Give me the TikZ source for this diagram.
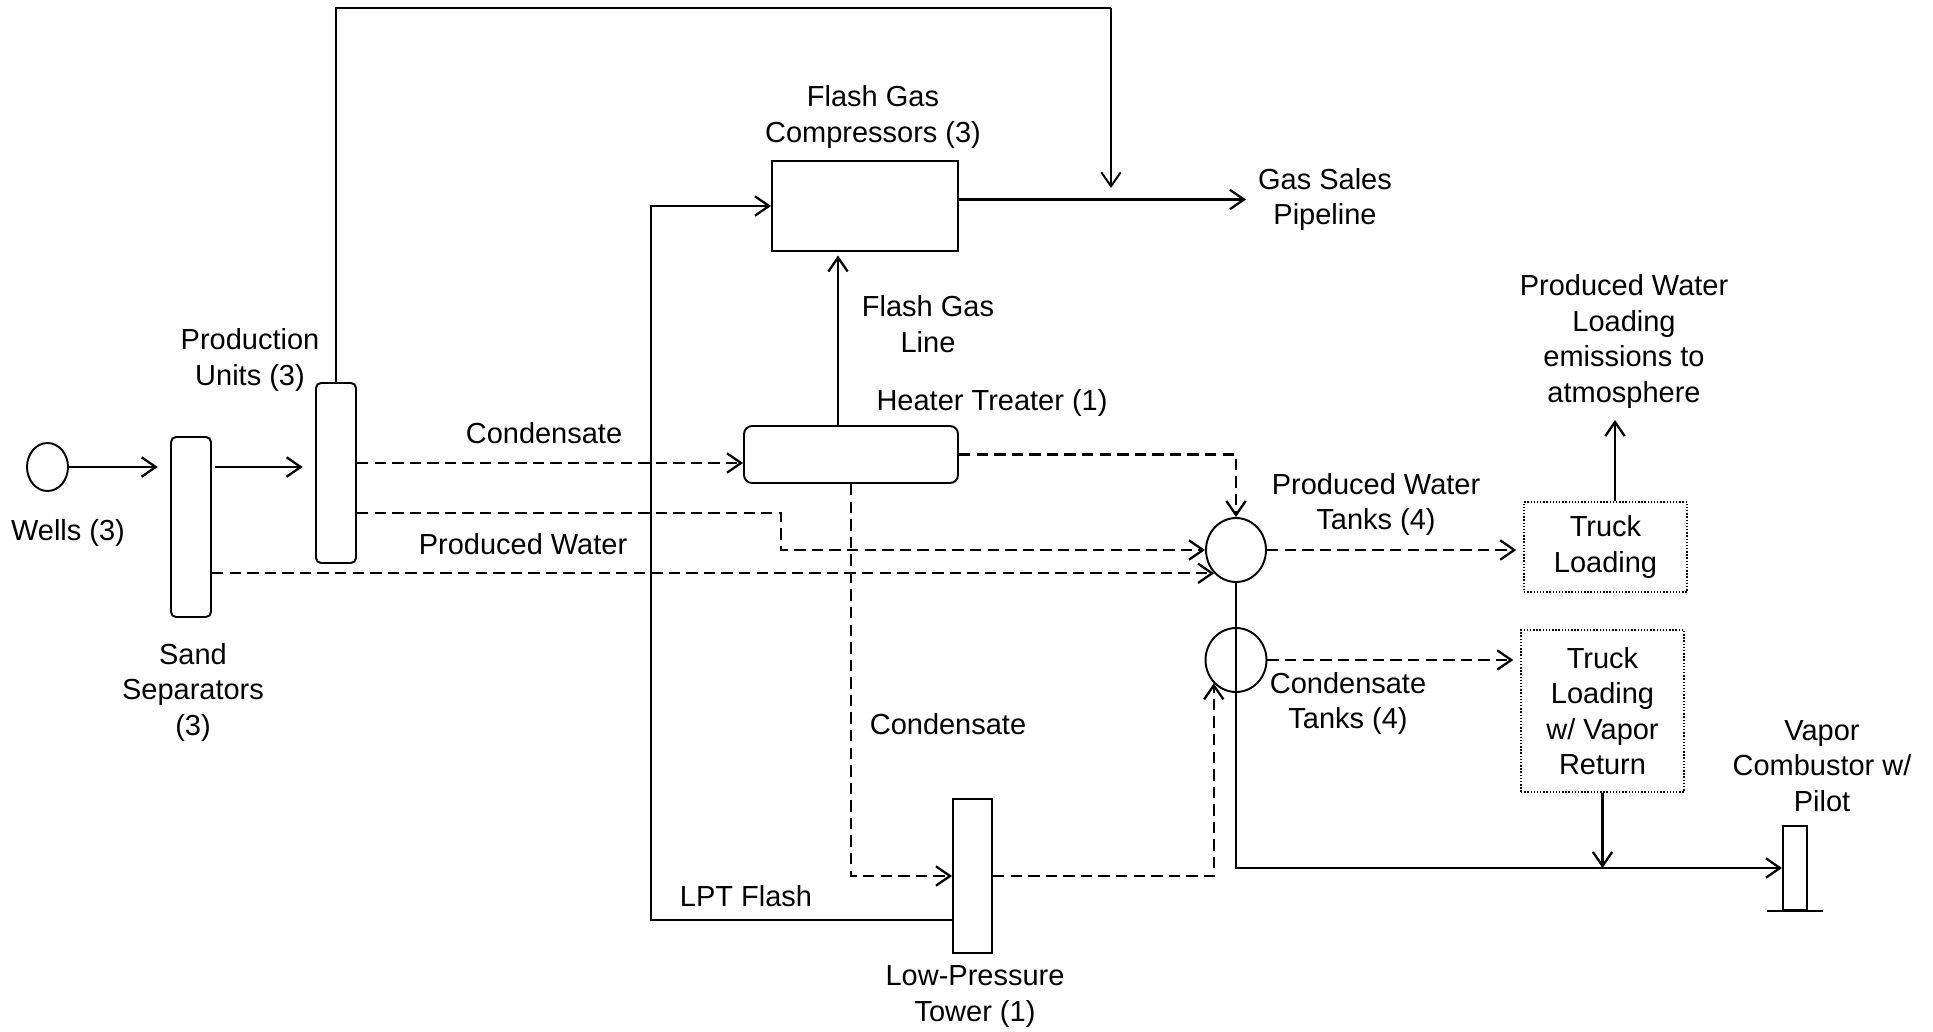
\documentclass[tikz,border=0pt]{standalone}
\usepackage{fontspec}
\setmainfont{Liberation Sans}
\usetikzlibrary{arrows.meta,shapes.geometric}
\begin{document}
\begin{tikzpicture}[x=0.02cm, y=-0.02cm, line width=1.3pt,
        font=\fontsize{16.5}{20.2}\selectfont,
        vessel/.style={draw, line width=1.1pt, rounded corners=0.1cm, minimum width=0.8cm, minimum height=3.6cm, inner sep=0},
        tank/.style={draw, line width=1.1pt, ellipse, inner sep=0},
        box/.style={draw, line width=1.1pt, inner sep=0},
        truck/.style={draw, densely dotted, line width=0.8pt, minimum width=3.26cm, align=center, inner sep=0},
        lbl/.style={align=center, inner sep=0},
        flow/.style={-{Straight Barb[length=8pt,width=11pt]}},
        liquid/.style={flow, dash pattern=on 6.5pt off 3.5pt}]
    \useasboundingbox (0,0) rectangle (1933,1031);
    \node[tank, minimum width=0.82cm, minimum height=0.96cm] (wells) at (47.5,467) {};
    \node[lbl] (wellslbl) at (68,533) {Wells (3)};
    \node[vessel] (sandsep) at (191,527) {};
    \node[lbl] (sandlbl) at (193,692) {Sand\\Separators\\(3)};
    \node[vessel] (produnit) at (336,473) {};
    \node[lbl] (prodlbl) at (250,360) {Production\\Units (3)};
    \node[box, rounded corners=0.16cm, minimum width=4.28cm, minimum height=1.14cm] (heater) at (851,454.5) {};
    \node[lbl] (heaterlbl) at (992,403) {Heater Treater (1)};
    \node[box, minimum width=3.72cm, minimum height=1.8cm] (comp) at (865,206) {};
    \node[lbl] (complbl) at (873,117) {Flash Gas\\Compressors (3)};
    \node[lbl, inner xsep=0.22cm] (pipe) at (1325,199.5) {Gas Sales\\Pipeline};
    \node[box, minimum width=0.78cm, minimum height=3.08cm] (lpt) at (972.5,876) {};
    \node[lbl] (lptlbl) at (975,996.5) {Low-Pressure\\Tower (1)};
    \node[tank, minimum width=1.2cm, minimum height=1.28cm] (pwtank) at (1236,550) {};
    \node[lbl] (pwtanklbl) at (1376,504.5) {Produced Water\\Tanks (4)};
    \node[tank, minimum width=1.22cm, minimum height=1.28cm] (condtank) at (1236,660) {};
    \node[lbl] (condtanklbl) at (1348,703.5) {Condensate\\Tanks (4)};
    \node[truck, minimum height=1.8cm] (truckpw) at (1605.5,547) {Truck\\Loading};
    \node[truck, minimum height=3.24cm] (truckcond) at (1602.5,711) {Truck\\Loading\\w/ Vapor\\Return};
    \node[lbl] (emis) at (1624,341.5) {Produced Water\\Loading\\emissions to\\atmosphere};
    \node[box, minimum width=0.48cm, minimum height=1.68cm] (comb) at (1795,868) {};
    \node[lbl] (comblbl) at (1822,766) {Vapor\\Combustor w/\\Pilot};
    \node[lbl] (condlbla) at (544,433) {Condensate};
    \node[lbl] (pwlbl) at (523,544) {Produced Water};
    \node[lbl] (fglbl) at (928,324) {Flash Gas\\Line};
    \node[lbl] (condlblb) at (948,724) {Condensate};
    \node[lbl] (lptflashlbl) at (746,896) {LPT Flash};
    \coordinate (ridge) at (1111,8);
    \coordinate (mergetip) at (1111,188);
    \coordinate (emistip) at (1615,420);
    \coordinate (pwjog) at (781,530);
    \coordinate (gasriser) at (651,560);
    \draw[flow, shorten >=7pt] (wells.east) -- (wells.east -| sandsep.west);
    \draw[flow, shorten <=1.5pt, shorten >=7pt] (sandsep.east |- wells) -- (produnit.west |- wells);
    \draw[line width=1.1pt] (produnit.north) |- (ridge);
    \draw[flow, line width=1.1pt] (ridge) -- (mergetip);
    \draw[liquid] ([yshift=0.2cm]produnit.east) -- ([yshift=0.2cm]produnit.east -| heater.west);
    \draw[liquid] ([yshift=-0.8cm]produnit.east) -| (pwjog) |- (pwtank.west);
    \draw[liquid] (sandsep.east |- pwtank.south west) -- (pwtank.south west);
    \draw[liquid] (heater.east) -| (pwtank.north);
    \draw[liquid] (heater.south) |- (lpt.west);
    \draw[liquid] (lpt.east) -| (condtank.south west);
    \draw[liquid, shorten >=4pt] (pwtank.east) -- (pwtank.east -| truckpw.west);
    \draw[liquid, shorten >=4pt] (condtank.east) -- (condtank.east -| truckcond.west);
    \draw[flow, shorten >=2pt] ([xshift=-0.26cm]heater.north) -- ([xshift=-0.26cm]heater.north |- comp.south);
    \draw[flow] ([yshift=-0.88cm]lpt.west) -| (gasriser) |- (comp.west);
    \draw[flow] (comp.east |- pipe.west) -- (pipe.west);
    \draw[flow] (pwtank.south) |- (comb.west);
    \draw[flow] (truckcond.south) -- (truckcond.south |- comb.west);
    \draw[flow] (truckpw.north -| emistip) -- (emistip);
    \draw ([xshift=-0.3cm]comb.south west) -- ([xshift=0.3cm]comb.south east);
\end{tikzpicture}
\end{document}
